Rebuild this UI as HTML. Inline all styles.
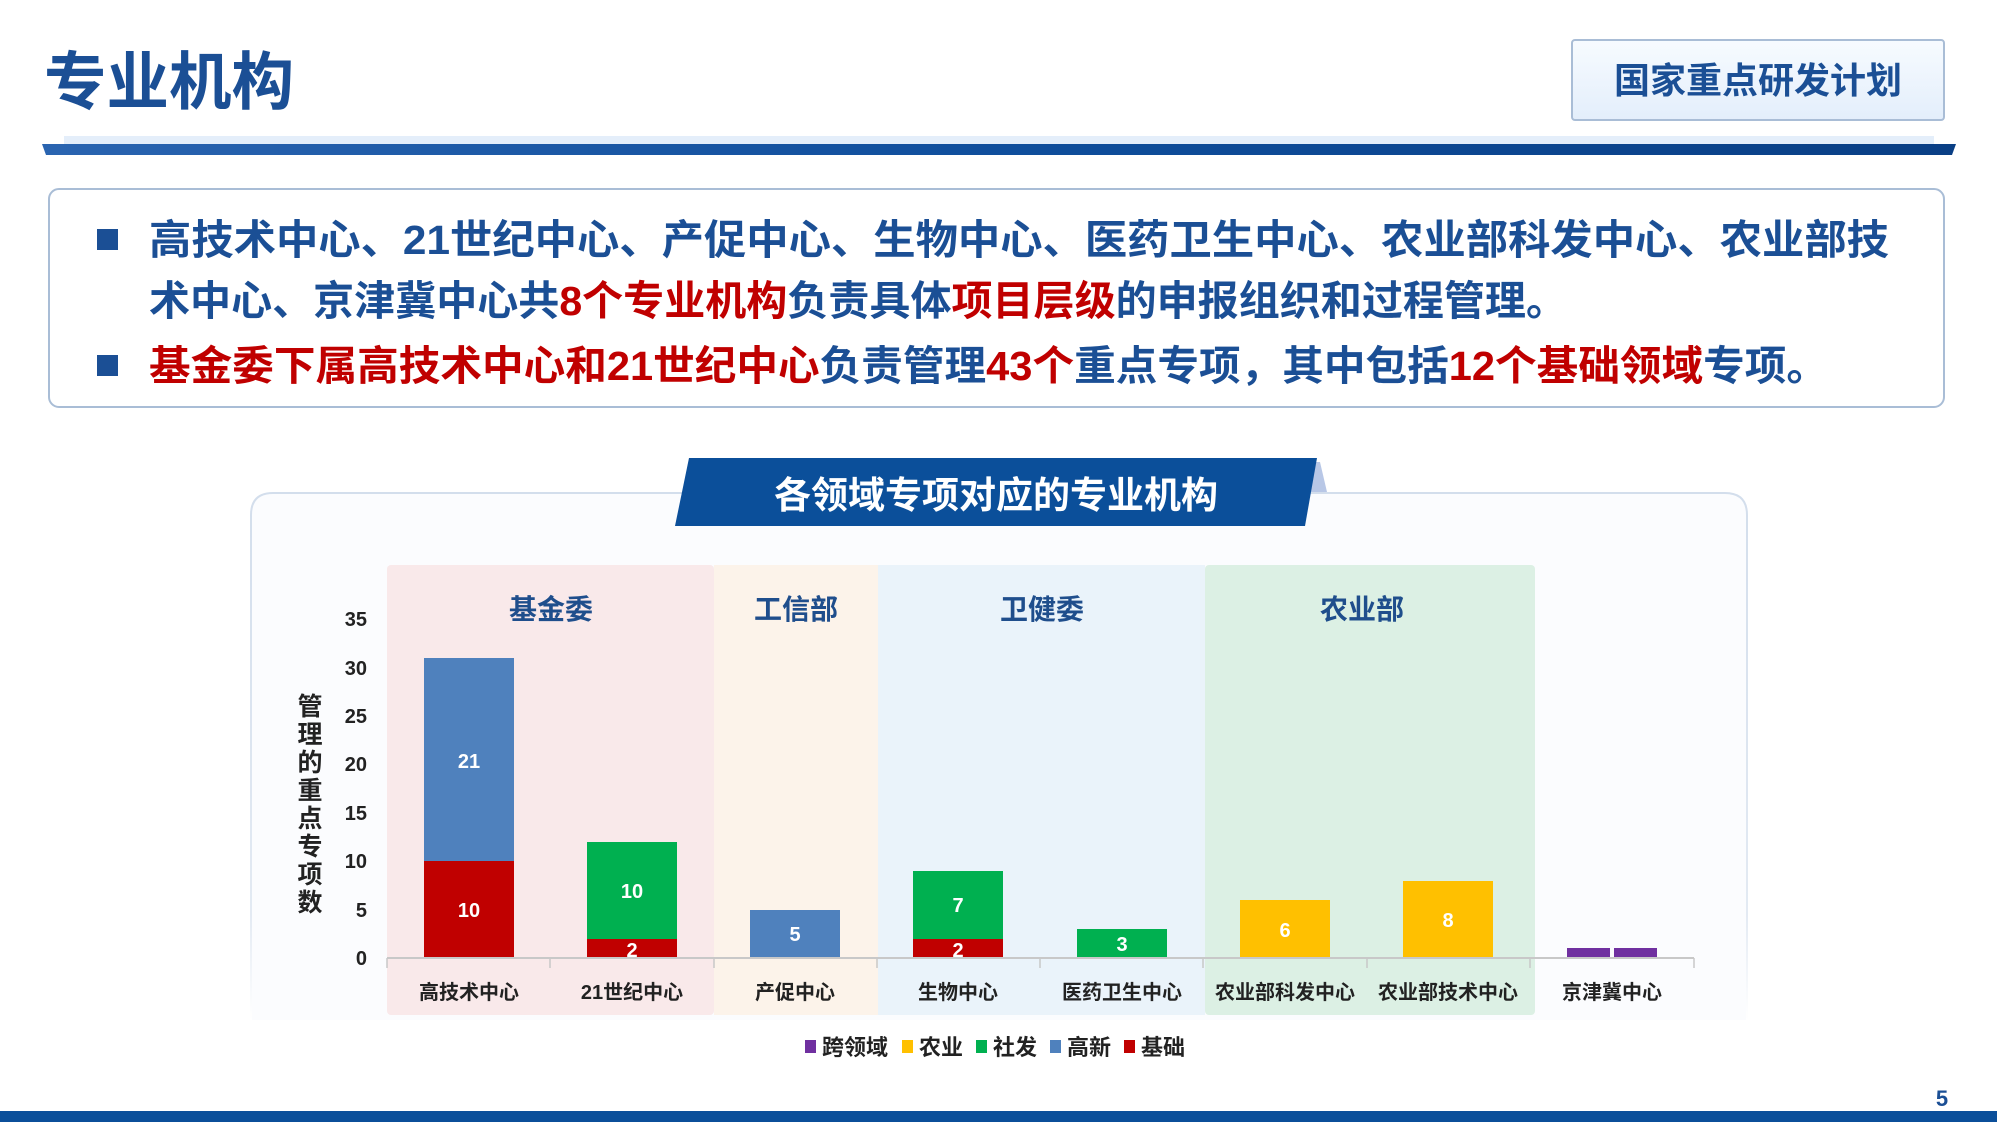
<!DOCTYPE html>
<html><head><meta charset="utf-8"><style>
html,body{margin:0;padding:0;background:#fff}
svg{display:block}
text{font-family:"Liberation Sans","Noto Sans CJK SC",sans-serif;font-weight:bold}
</style></head><body>
<svg width="1997" height="1122" viewBox="0 0 1997 1122" xmlns="http://www.w3.org/2000/svg">
<defs>
<linearGradient id="bar" x1="0" x2="1"><stop offset="0" stop-color="#2a64b0"/><stop offset="0.5" stop-color="#0f4e9c"/><stop offset="1" stop-color="#0a3f85"/></linearGradient>
<linearGradient id="box" x1="0" y1="0" x2="0" y2="1"><stop offset="0" stop-color="#f7fbff"/><stop offset="1" stop-color="#e3eefb"/></linearGradient>
<linearGradient id="fade" x1="0" y1="0" x2="0" y2="1"><stop offset="0" stop-color="#d3deec"/><stop offset="0.8" stop-color="#e3eaf3"/><stop offset="1" stop-color="#ffffff"/></linearGradient>
</defs>
<rect width="1997" height="1122" fill="#fff"/>
<text x="44" y="104" font-size="63" fill="#1b4f95" textLength="250" lengthAdjust="spacingAndGlyphs">专业机构</text>
<rect x="1572" y="40" width="372" height="80" rx="3" fill="url(#box)" stroke="#a9bdd6" stroke-width="2"/>
<text x="1758" y="93" font-size="36" fill="#1b4f95" text-anchor="middle">国家重点研发计划</text>
<rect x="64" y="136" width="1870" height="9" fill="#e4eefa"/>
<polygon points="42,144 1956,144 1952,155 46,155" fill="url(#bar)"/>
<rect x="49" y="189" width="1895" height="218" rx="10" fill="#fff" stroke="#a9bdd6" stroke-width="2"/>
<rect x="97" y="229" width="21" height="21" fill="#1b4f95"/>
<rect x="97" y="355" width="21" height="21" fill="#1b4f95"/>
<text x="149" y="254" font-size="41" fill="#1b4f95" textLength="1740" lengthAdjust="spacingAndGlyphs">高技术中心、21世纪中心、产促中心、生物中心、医药卫生中心、农业部科发中心、农业部技</text>
<text x="149" y="315" font-size="41" fill="#1b4f95" textLength="1418" lengthAdjust="spacingAndGlyphs">术中心、京津冀中心共<tspan fill="#c00000">8个专业机构</tspan>负责具体<tspan fill="#c00000">项目层级</tspan>的申报组织和过程管理。</text>
<text x="149" y="380" font-size="41" fill="#c00000" textLength="1679" lengthAdjust="spacingAndGlyphs">基金委下属高技术中心和21世纪中心<tspan fill="#1b4f95">负责管理</tspan>43个<tspan fill="#1b4f95">重点专项，其中包括</tspan>12个基础领域<tspan fill="#1b4f95">专项。</tspan></text>
<path d="M251,1020 L251,515 Q251,493 273,493 L1725,493 Q1747,493 1747,515 L1747,1020" fill="#fbfcfe" stroke="url(#fade)" stroke-width="2"/>
<polygon points="1305,462 1320,462 1327,492 1305,492" fill="#b8c7e6"/>
<polygon points="689,458 1317,458 1305,526 675,526" fill="#0b4f9a"/>
<text x="996" y="508" font-size="37" fill="#fff" text-anchor="middle">各领域专项对应的专业机构</text>
<rect x="387" y="565" width="327" height="450" rx="4" fill="#f9e9ea"/>
<rect x="714" y="565" width="164" height="450" fill="#fcf3ea"/>
<rect x="878" y="565" width="327" height="450" fill="#eaf3fa"/>
<rect x="1205" y="565" width="330" height="450" rx="4" fill="#dcf0e4"/>
<g font-size="28" fill="#1f4e8c" text-anchor="middle">
<text x="551" y="619">基金委</text><text x="796" y="619">工信部</text><text x="1042" y="619">卫健委</text><text x="1362" y="619">农业部</text>
</g>
<g font-size="20" fill="#222" text-anchor="end">
<text x="367" y="965">0</text><text x="367" y="917">5</text><text x="367" y="868">10</text><text x="367" y="820">15</text><text x="367" y="771">20</text><text x="367" y="723">25</text><text x="367" y="675">30</text><text x="367" y="626">35</text>
</g>
<g font-size="25" fill="#222" text-anchor="middle">
<text x="310" y="715">管</text><text x="310" y="743">理</text><text x="310" y="771">的</text><text x="310" y="799">重</text><text x="310" y="827">点</text><text x="310" y="855">专</text><text x="310" y="883">项</text><text x="310" y="911">数</text>
</g>
<rect x="424" y="861" width="90" height="97" fill="#c00000"/>
<rect x="424" y="658" width="90" height="203" fill="#4f81bd"/>
<rect x="587" y="939" width="90" height="19" fill="#c00000"/>
<rect x="587" y="842" width="90" height="97" fill="#00b050"/>
<rect x="750" y="910" width="90" height="48" fill="#4f81bd"/>
<rect x="913" y="939" width="90" height="19" fill="#c00000"/>
<rect x="913" y="871" width="90" height="68" fill="#00b050"/>
<rect x="1077" y="929" width="90" height="29" fill="#00b050"/>
<rect x="1240" y="900" width="90" height="58" fill="#ffc000"/>
<rect x="1403" y="881" width="90" height="77" fill="#ffc000"/>
<rect x="1567" y="948" width="43" height="10" fill="#7030a0"/>
<rect x="1614" y="948" width="43" height="10" fill="#7030a0"/>
<g font-size="20" fill="#fff" text-anchor="middle">
<text x="469" y="917">10</text><text x="469" y="768">21</text>
<text x="632" y="957">2</text><text x="632" y="898">10</text>
<text x="795" y="941">5</text>
<text x="958" y="957">2</text><text x="958" y="912">7</text>
<text x="1122" y="951">3</text>
<text x="1285" y="937">6</text><text x="1448" y="927">8</text>
</g>
<line x1="387" y1="958" x2="1694" y2="958" stroke="#c8c8c8" stroke-width="2"/>
<g stroke="#c8c8c8" stroke-width="1.5">
<line x1="387" y1="958" x2="387" y2="968"/><line x1="550" y1="958" x2="550" y2="968"/><line x1="714" y1="958" x2="714" y2="968"/><line x1="877" y1="958" x2="877" y2="968"/><line x1="1040" y1="958" x2="1040" y2="968"/><line x1="1203" y1="958" x2="1203" y2="968"/><line x1="1367" y1="958" x2="1367" y2="968"/><line x1="1530" y1="958" x2="1530" y2="968"/><line x1="1694" y1="958" x2="1694" y2="968"/>
</g>
<g font-size="20" fill="#222" text-anchor="middle">
<text x="469" y="999">高技术中心</text><text x="632" y="999">21世纪中心</text><text x="795" y="999">产促中心</text><text x="958" y="999">生物中心</text><text x="1122" y="999">医药卫生中心</text><text x="1285" y="999">农业部科发中心</text><text x="1448" y="999">农业部技术中心</text><text x="1612" y="999">京津冀中心</text>
</g>
<g font-size="22" fill="#222">
<rect x="805" y="1040" width="11" height="13" fill="#7030a0"/><text x="822" y="1055">跨领域</text>
<rect x="902" y="1040" width="11" height="13" fill="#ffc000"/><text x="919" y="1055">农业</text>
<rect x="976" y="1040" width="11" height="13" fill="#00b050"/><text x="993" y="1055">社发</text>
<rect x="1050" y="1040" width="11" height="13" fill="#4f81bd"/><text x="1067" y="1055">高新</text>
<rect x="1124" y="1040" width="11" height="13" fill="#c00000"/><text x="1141" y="1055">基础</text>
</g>
<rect x="0" y="1111" width="1997" height="11" fill="#0b4f9a"/>
<text x="1942" y="1106" font-size="22" fill="#1b4f95" text-anchor="middle">5</text>
</svg>
</body></html>
